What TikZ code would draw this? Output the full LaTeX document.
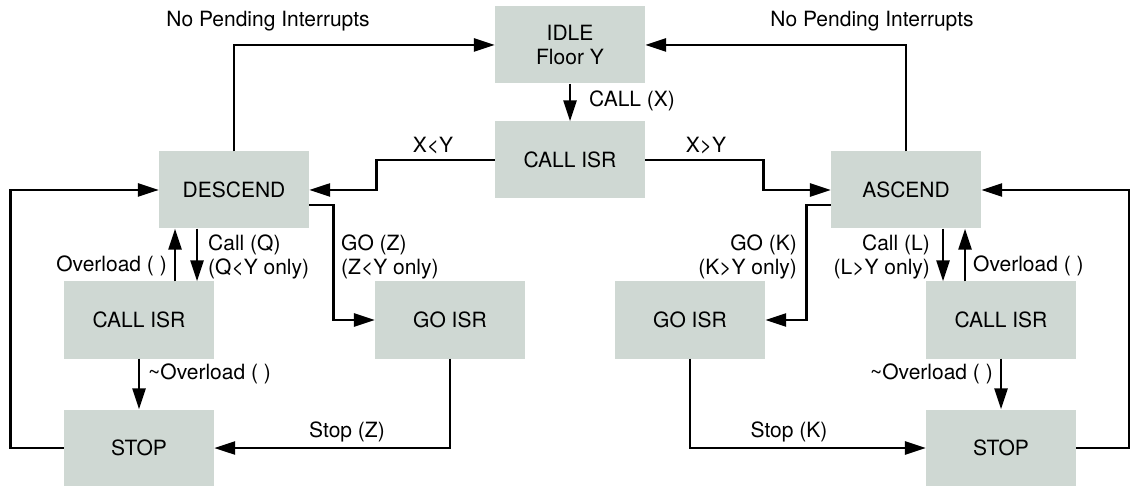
\documentclass[tikz,border=0pt]{standalone}
\usepackage{fontspec}
\setmainfont{TeX Gyre Heros}
\usepackage{xcolor}
\usetikzlibrary{arrows.meta}
\definecolor{boxgrey}{RGB}{207,216,211}

\begin{document}
\begin{tikzpicture}[x=1pt,y=-1pt,
        every node/.style={font=\fontsize{21}{24}\selectfont, inner sep=0pt},
        state/.style={fill=boxgrey, minimum width=150pt, minimum height=77pt, align=center},
        trans/.style={line width=2.7pt, -{Triangle[length=21pt,width=13pt]}}]
    \useasboundingbox (0,0) rectangle (1130,486);
    % states
    \node [state] (idle) at (570,45) {IDLE\\Floor Y};
    \node [state] (callisr) at (570,160) {CALL ISR};
    \node [state] (descend) at (234,190) {DESCEND};
    \node [state] (ascend) at (906,190) {ASCEND};
    \node [state] (dcall) at (139,320) {CALL ISR};
    \node [state] (dgo) at (450,320) {GO ISR};
    \node [state] (ago) at (690,320) {GO ISR};
    \node [state] (acall) at (1001,320) {CALL ISR};
    \node [state] (dstop) at (139,448) {STOP};
    \node [state] (astop) at (1001,448) {STOP};
    % top part
    \draw [trans] (descend.north) |- (idle.west);
    \node (npleft) at (268,21) {No Pending Interrupts};
    \draw [trans] (ascend.north) |- (idle.east);
    \node (npright) at (872,21) {No Pending Interrupts};
    \draw [trans] (idle) -- (callisr);
    \node [anchor=west] (callx) at (589,101) {CALL (X)};
    \draw [trans] (callisr.west) -- ++(-118,0) |- (descend.east);
    \node (xlty) at (433,146) {X<Y};
    \draw [trans] (callisr.east) -- ++(118,0) |- (ascend.west);
    \node (xgty) at (706,146) {X>Y};
    % descending side
    \draw [trans] ([yshift=-15pt]descend.east) -- ++(24,0) |- (dgo.west);
    \node [anchor=west, align=left] (goz) at (341,257) {GO (Z)\\(Z<Y only)};
    \draw [trans] ([xshift=58pt]dcall.north |- descend.south) -- ([xshift=58pt]dcall.north);
    \node [anchor=west, align=left] (callq) at (208,257) {Call (Q)\\(Q<Y only)};
    \draw [trans] ([xshift=36pt]dcall.north) -- ([xshift=36pt]dcall.north |- descend.south);
    \node [anchor=east] (ovldl) at (167,266) {Overload ( )};
    \draw [trans] (dcall) -- (dstop);
    \node [anchor=west] (notovldl) at (148,374) {\textasciitilde Overload ( )};
    \draw [trans] (dgo.south) |- (dstop.east);
    \node (stopz) at (347,432) {Stop (Z)};
    \draw [trans] (dstop.west) -- ++(-53,0) |- (descend.west);
    % ascending side
    \draw [trans] ([yshift=-15pt]ascend.west) -- ++(-24,0) |- (ago.east);
    \node [anchor=east, align=right] (gok) at (797,257) {GO (K)\\(K>Y only)};
    \draw [trans] ([xshift=-58pt]acall.north |- ascend.south) -- ([xshift=-58pt]acall.north);
    \node [anchor=east, align=right] (calll) at (930,257) {Call (L)\\(L>Y only)};
    \draw [trans] ([xshift=-36pt]acall.north) -- ([xshift=-36pt]acall.north |- ascend.south);
    \node [anchor=west] (ovldr) at (973,266) {Overload ( )};
    \draw [trans] (acall) -- (astop);
    \node [anchor=east] (notovldr) at (993,374) {\textasciitilde Overload ( )};
    \draw [trans] (ago.south) |- (astop.west);
    \node (stopk) at (789,432) {Stop (K)};
    \draw [trans] (astop.east) -- ++(53,0) |- (ascend.east);
\end{tikzpicture}
\end{document}
